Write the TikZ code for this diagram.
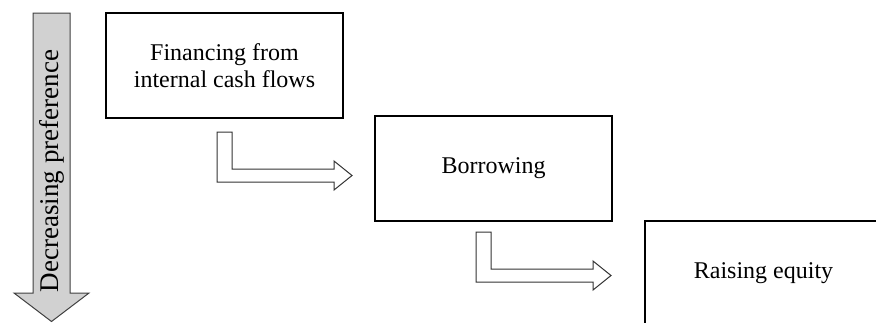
\documentclass[tikz,border=0pt]{standalone}
\usepackage{fontspec}
\setmainfont{Liberation Serif}
\tikzset{
	stagebox/.style={draw, line width=0.6pt, minimum width=118.5pt, minimum height=52.5pt,
		inner sep=0pt, align=center, font=\fontsize{12}{13.5}\selectfont},
	bentarrow/.style={draw=black!80, line width=0.5pt, fill=white, line join=miter},
	prefarrow/.style={draw=black!75, line width=0.5pt, fill=black!18}
}
\begin{document}
\begin{tikzpicture}[x=0.5pt, y=-0.5pt]
				\clip (0,0) rectangle (876,322);

				% big arrow on the left
				\draw[prefarrow] (33,13) -- (70,13) -- (70,293) -- (89,293) -- (51.5,321.5)
					-- (14,293) -- (33,293) -- cycle;
				\node[rotate=90, font=\fontsize{13.5}{16}\selectfont] (pref) at (51.5,171) {Decreasing preference};

				% the three stages
				\node[stagebox] (internal) at (224.5,65.5) {Financing from\\internal cash flows};
				\node[stagebox] (borrow) at (493.5,168.5) {Borrowing};
				\node[stagebox] (equity) at (763.5,273.5) {Raising equity};

				% bent arrows between the stages
				\foreach \dx/\dy in {0/0, 259/100} {
					\begin{scope}[shift={(\dx,\dy)}]
						\draw[bentarrow] (217,132) -- (232,132) -- (232,169) -- (334,169) -- (334,161)
							-- (352,175.5) -- (334,190) -- (334,182) -- (217,182) -- cycle;
					\end{scope}
				}
			\end{tikzpicture}
\end{document}
